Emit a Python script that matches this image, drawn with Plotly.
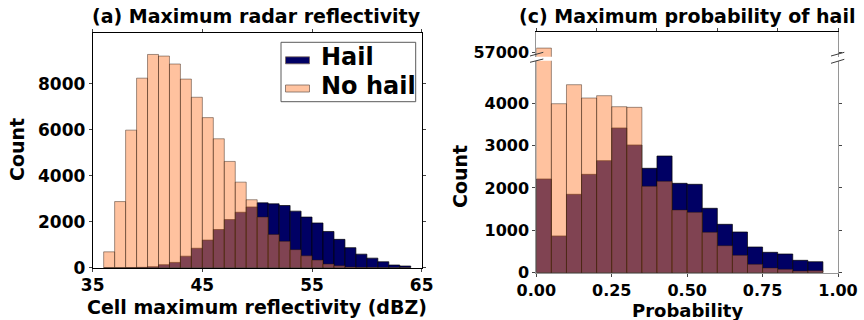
import plotly.graph_objects as go

# ---------------- data ----------------
# (a) Maximum radar reflectivity, 1-dBZ bins (left edges)
refl_bin_left = list(range(36, 64))
refl_hail = [0, 0, 5, 15, 40, 130, 230, 500, 845, 1200, 1660, 2090, 2410, 2640,
             2820, 2777, 2704, 2459, 2202, 1944, 1575, 1232, 871, 588, 416, 258, 116, 73]
refl_nohail = [690, 2875, 5980, 8240, 9270, 9200, 8855, 8200, 7410, 6525, 5605, 4620,
               3720, 2955, 2200, 1446, 1146, 785, 515, 330, 160, 86, 30, 10, 5, 2, 0, 0]

# (c) Maximum probability of hail, 0.05 bins (left edges)
prob_bin_left = [0.00, 0.05, 0.10, 0.15, 0.20, 0.25, 0.30, 0.35, 0.40, 0.45,
                 0.50, 0.55, 0.60, 0.65, 0.70, 0.75, 0.80, 0.85, 0.90]
prob_hail = [2210, 866, 1849, 2320, 2642, 3413, 3012, 2462, 2752, 2108,
             2085, 1519, 1141, 960, 606, 481, 441, 292, 259]
prob_nohail = [57110, 3986, 4434, 4120, 4175, 3915, 3900, 2038, 2155, 1479,
               1424, 953, 637, 410, 198, 111, 80, 40, 47]

refl_ticks = [35, 45, 55, 65]
refl_yticks = [0, 2000, 4000, 6000, 8000]
prob_ticks = [0.0, 0.25, 0.5, 0.75, 1.0]
prob_ticktext = ["0.00", "0.25", "0.50", "0.75", "1.00"]
prob_yticks = [0, 1000, 2000, 3000, 4000]
prob_upper_ticks = [57000]
prob_upper_text = ["57000"]
legend_labels = ["Hail", "No hail"]

# ---------------- style ----------------
W, H = 864, 320
HAIL = "rgb(0,0,100)"
NOHAIL = "rgba(255,134,64,0.5)"
NOHAIL_SOLID = "rgb(255,195,160)"
FONT = "DejaVu Sans"


def px(x):
    return x / W


def py(y):
    return 1 - y / H


refl_w = 1.0
prob_w = 0.05
refl_centers = [b + refl_w / 2 for b in refl_bin_left]
prob_centers = [b + prob_w / 2 for b in prob_bin_left]

fig = go.Figure()

edge_h = dict(color="rgba(0,0,0,0.85)", width=0.8)
edge_n = dict(color="rgba(40,20,10,0.55)", width=0.8)

# left panel
fig.add_trace(go.Bar(x=refl_centers, y=refl_hail, width=refl_w, name=legend_labels[0],
                     marker=dict(color=HAIL, line=edge_h), xaxis="x", yaxis="y"))
fig.add_trace(go.Bar(x=refl_centers, y=refl_nohail, width=refl_w, name=legend_labels[1],
                     marker=dict(color=NOHAIL, line=edge_n), xaxis="x", yaxis="y"))

# right panel, lower and upper (broken-axis) sections
for xa, ya in (("x2", "y2"), ("x3", "y3")):
    fig.add_trace(go.Bar(x=prob_centers, y=prob_hail, width=prob_w, name=legend_labels[0],
                         marker=dict(color=HAIL, line=edge_h), xaxis=xa, yaxis=ya))
    fig.add_trace(go.Bar(x=prob_centers, y=prob_nohail, width=prob_w, name=legend_labels[1],
                         marker=dict(color=NOHAIL, line=edge_n), xaxis=xa, yaxis=ya))

FS = 17
tickfont = dict(family=FONT, size=FS, color="black", weight="bold")
tickfont_r = dict(family=FONT, size=16, color="black", weight="bold")
common = dict(showgrid=False, zeroline=False, ticks="outside", ticklen=3,
              tickwidth=1, automargin=False)

left_x = [px(92.7), px(421.7)]
left_y = [py(267.7), py(33.3)]
right_x = [px(536.3), px(838)]
right_low_y = [py(272.7), py(60.7)]
right_up_y = [py(56.7), py(32.3)]

fig.update_layout(
    width=W, height=H, margin=dict(l=0, r=0, t=0, b=0),
    paper_bgcolor="white", plot_bgcolor="white", barmode="overlay",
    showlegend=False,
    xaxis=dict(domain=left_x, range=[35, 65], tickvals=refl_ticks, anchor="y",
               showline=True, linecolor="black", mirror="ticks", tickfont=tickfont,
               ticklabelstandoff=-1, **common),
    yaxis=dict(domain=left_y, range=[0, 10190], tickvals=refl_yticks, anchor="x",
               showline=True, linecolor="black", mirror="ticks", tickfont=tickfont, **common),
    xaxis2=dict(domain=right_x, range=[0, 1], tickvals=prob_ticks, ticktext=prob_ticktext,
                anchor="y2", showline=True, linecolor="rgb(150,150,150)", mirror=False,
                tickfont=tickfont_r, ticklabelstandoff=0, **common),
    yaxis2=dict(domain=right_low_y, range=[0, 5000], tickvals=prob_yticks, anchor="x2",
                showline=True, linecolor="rgb(150,150,150)", mirror="ticks",
                tickfont=tickfont_r, **common),
    xaxis3=dict(domain=right_x, range=[0, 1], dtick=0.2, tick0=0, anchor="y3", side="top",
                showticklabels=False, showline=True, linecolor="black", tickfont=tickfont_r, **common),
    yaxis3=dict(domain=right_up_y, range=[56900, 57495], tickvals=prob_upper_ticks,
                ticktext=prob_upper_text, anchor="x3",
                showline=True, linecolor="rgb(150,150,150)", mirror="ticks",
                tickfont=tickfont_r, **common),
)

# texts
tfont = dict(family=FONT, size=19, color="black", weight="bold")
ann = [
    dict(text="(a) Maximum radar reflectivity", x=px(256.7), y=py(16), xanchor="center", yanchor="middle"),
    dict(text="(c) Maximum probability of hail", x=px(687), y=py(16), xanchor="center", yanchor="middle"),
    dict(text="Cell maximum reflectivity (dBZ)", x=px(256.7), y=py(307), xanchor="center", yanchor="middle"),
    dict(text="Probability", x=px(687), y=py(310.5), xanchor="center", yanchor="middle", size=18),
    dict(text="Count", x=px(17), y=py(150), xanchor="center", yanchor="middle", textangle=-90),
    dict(text="Count", x=px(460), y=py(177), xanchor="center", yanchor="middle", textangle=-90),
]
for a in ann:
    f = dict(tfont)
    if "size" in a:
        f["size"] = a.pop("size")
    fig.add_annotation(xref="paper", yref="paper", showarrow=False, font=f, **a)

# legend (drawn manually to match matplotlib's compact layout)
fig.add_shape(type="rect", xref="paper", yref="paper",
              x0=px(281), y0=py(101.7), x1=px(415.7), y1=py(42.3),
              fillcolor="white", line=dict(color="rgb(90,90,90)", width=1), layer="above")
for (label, color, ycen) in [(legend_labels[0], HAIL, 60.3), (legend_labels[1], NOHAIL_SOLID, 88.5)]:
    fig.add_shape(type="rect", xref="paper", yref="paper",
                  x0=px(285.5), y0=py(ycen + 3.5), x1=px(309.5), y1=py(ycen - 3.5),
                  fillcolor=color, line=dict(color="rgb(120,100,90)", width=0.8), layer="above")
    fig.add_annotation(xref="paper", yref="paper", showarrow=False, text=label,
                       x=px(319), y=py(ycen - 3), xanchor="left", yanchor="middle",
                       font=dict(family=FONT, size=24, color="black", weight="bold"))

# broken-axis marks
for (x0, y0, x1, y1) in [(530, 56, 543.3, 52.3), (530, 62.3, 543.3, 59),
                         (831, 56, 844.3, 52.3), (831, 63.3, 844.3, 59.3)]:
    fig.add_shape(type="line", xref="paper", yref="paper",
                  x0=px(x0), y0=py(y0), x1=px(x1), y1=py(y1),
                  line=dict(color="rgb(60,60,60)", width=1))

fig.write_html("out.html")
